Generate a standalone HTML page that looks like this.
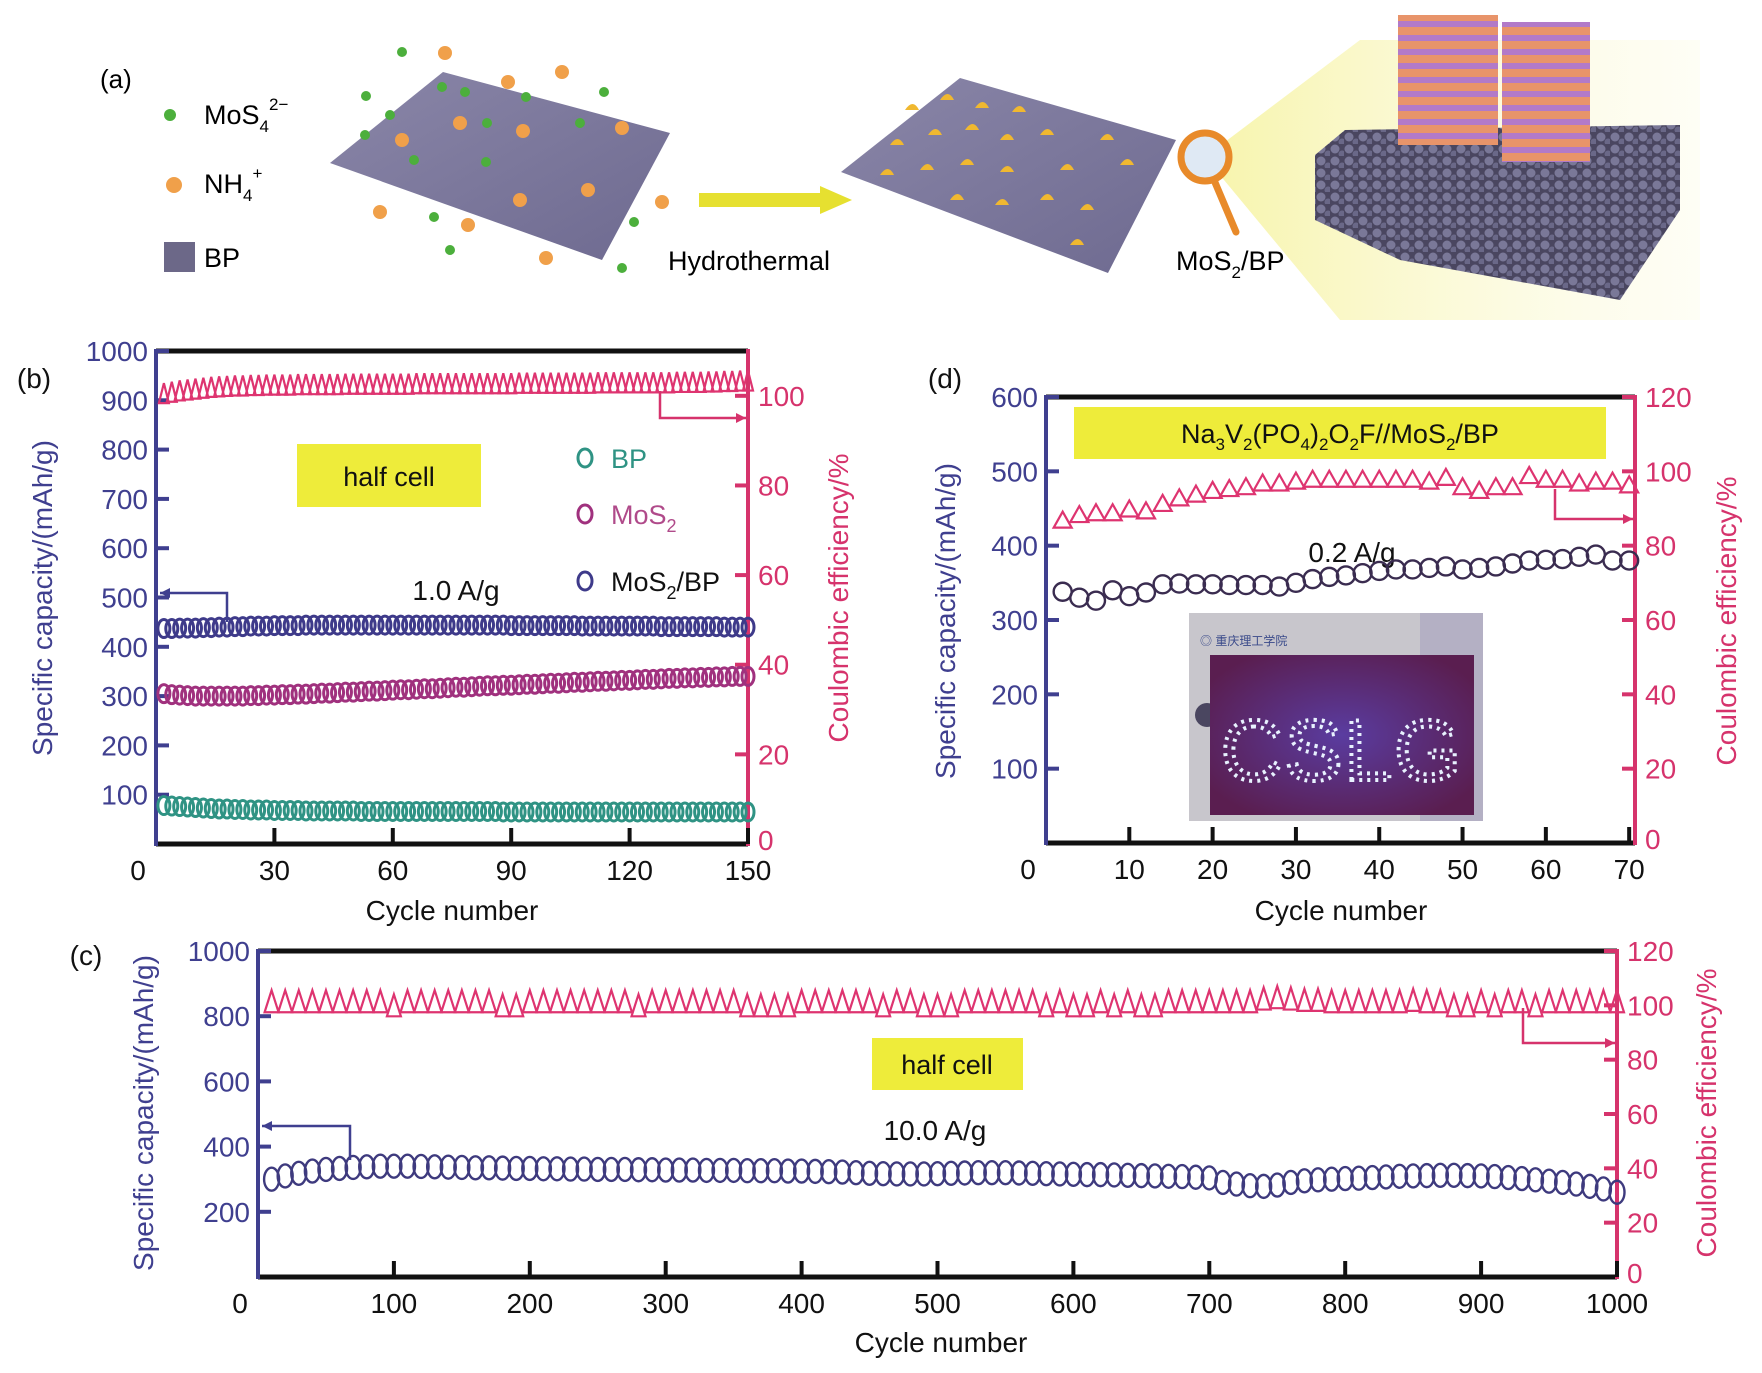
<!DOCTYPE html>
<html><head><meta charset="utf-8"><style>
html,body{margin:0;padding:0;background:#fff;}
svg{display:block;font-family:"Liberation Sans",Arial,sans-serif;}
</style></head><body>
<svg id="fig" width="1762" height="1373" viewBox="0 0 1762 1373" xmlns="http://www.w3.org/2000/svg">
<defs>
<linearGradient id="beam" x1="0" x2="1" y1="0" y2="0"><stop offset="0" stop-color="#f4f08a" stop-opacity="0.9"/><stop offset="1" stop-color="#fbf9d8" stop-opacity="0.3"/></linearGradient>
<linearGradient id="sheet" x1="0" x2="1" y1="0" y2="1"><stop offset="0" stop-color="#8a86a8"/><stop offset="1" stop-color="#6e6a90"/></linearGradient>
<pattern id="stripes" width="10" height="14" patternUnits="userSpaceOnUse"><rect width="10" height="14" fill="#e8946a"/><rect y="7" width="10" height="6" fill="#b27ac8"/></pattern>
<pattern id="bpdots" width="14" height="12" patternUnits="userSpaceOnUse"><rect width="14" height="12" fill="#4a4660"/><circle cx="5" cy="5" r="4.5" fill="#7a7898"/><circle cx="12" cy="10" r="3.5" fill="#6a6888"/></pattern>
<radialGradient id="led" cx="0.5" cy="0.5" r="0.6"><stop offset="0" stop-color="#5a3ca0"/><stop offset="1" stop-color="#5a1e50"/></radialGradient>
</defs>

<!-- Panel (a) illustration -->
<g id="panel-a">
<text x="100" y="88" font-size="26">(a)</text>
<circle cx="170" cy="115" r="6" fill="#4caf3c"/>
<text x="204" y="124" font-size="27">MoS<tspan font-size="17" dy="8">4</tspan><tspan font-size="17" dy="-22">2−</tspan></text>
<circle cx="174" cy="185" r="8" fill="#f0a04a"/>
<text x="204" y="193" font-size="27">NH<tspan font-size="17" dy="8">4</tspan><tspan font-size="17" dy="-22">+</tspan></text>
<rect x="164" y="242" width="31" height="30" fill="#6c6888"/>
<text x="204" y="267" font-size="27">BP</text>
<polygon points="330,163 443,72 670,133 602,260" fill="url(#sheet)"/>
<g>
<circle cx="402" cy="52" r="5" fill="#4caf3c"/><circle cx="445" cy="53" r="7" fill="#f0a04a"/><circle cx="562" cy="72" r="7" fill="#f0a04a"/>
<circle cx="508" cy="82" r="7" fill="#f0a04a"/><circle cx="442" cy="87" r="5" fill="#4caf3c"/><circle cx="366" cy="96" r="5" fill="#4caf3c"/>
<circle cx="465" cy="92" r="5" fill="#4caf3c"/><circle cx="526" cy="97" r="5" fill="#4caf3c"/><circle cx="604" cy="92" r="5" fill="#4caf3c"/>
<circle cx="390" cy="115" r="5" fill="#4caf3c"/><circle cx="460" cy="123" r="7" fill="#f0a04a"/><circle cx="487" cy="123" r="5" fill="#4caf3c"/>
<circle cx="523" cy="131" r="7" fill="#f0a04a"/><circle cx="580" cy="123" r="5" fill="#4caf3c"/><circle cx="622" cy="128" r="7" fill="#f0a04a"/>
<circle cx="365" cy="135" r="5" fill="#4caf3c"/><circle cx="402" cy="140" r="7" fill="#f0a04a"/><circle cx="414" cy="160" r="5" fill="#4caf3c"/>
<circle cx="486" cy="162" r="5" fill="#4caf3c"/><circle cx="588" cy="190" r="7" fill="#f0a04a"/><circle cx="520" cy="200" r="7" fill="#f0a04a"/>
<circle cx="662" cy="202" r="7" fill="#f0a04a"/><circle cx="380" cy="212" r="7" fill="#f0a04a"/><circle cx="434" cy="217" r="5" fill="#4caf3c"/>
<circle cx="468" cy="225" r="7" fill="#f0a04a"/><circle cx="634" cy="222" r="5" fill="#4caf3c"/><circle cx="450" cy="250" r="5" fill="#4caf3c"/>
<circle cx="546" cy="258" r="7" fill="#f0a04a"/><circle cx="622" cy="268" r="5" fill="#4caf3c"/>
</g>
<polygon points="699,193 820,193 820,186 852,200 820,214 820,207 699,207" fill="#e6e030"/>
<text x="668" y="270" font-size="27">Hydrothermal</text>
<polygon points="841,172 960,78 1176,140 1108,273" fill="url(#sheet)"/>
<g fill="#f0b830">
<path d="M905,110 q8,-12 14,0 z"/><path d="M940,100 q8,-12 14,0 z"/><path d="M975,108 q8,-12 14,0 z"/><path d="M1012,112 q8,-12 14,0 z"/>
<path d="M890,145 q8,-12 14,0 z"/><path d="M928,135 q8,-12 14,0 z"/><path d="M965,130 q8,-12 14,0 z"/><path d="M1000,140 q8,-12 14,0 z"/><path d="M1040,135 q8,-12 14,0 z"/><path d="M1100,140 q8,-12 14,0 z"/>
<path d="M880,175 q8,-12 14,0 z"/><path d="M920,170 q8,-12 14,0 z"/><path d="M960,165 q8,-12 14,0 z"/><path d="M1000,172 q8,-12 14,0 z"/><path d="M1060,170 q8,-12 14,0 z"/><path d="M1120,165 q8,-12 14,0 z"/>
<path d="M950,200 q8,-12 14,0 z"/><path d="M995,205 q8,-12 14,0 z"/><path d="M1040,200 q8,-12 14,0 z"/><path d="M1080,210 q8,-12 14,0 z"/><path d="M1070,245 q8,-12 14,0 z"/>
</g>
<polygon points="1205,157 1360,40 1700,40 1700,320 1340,320" fill="url(#beam)" opacity="0.8"/>
<circle cx="1205" cy="157" r="24" fill="#dfe9f4" stroke="#e88a2a" stroke-width="7"/>
<line x1="1214" y1="180" x2="1236" y2="232" stroke="#e88a2a" stroke-width="7" stroke-linecap="round"/>
<text x="1176" y="270" font-size="27">MoS<tspan font-size="17" dy="8">2</tspan><tspan dy="-8">/BP</tspan></text>
<polygon points="1315,155 1345,130 1680,125 1680,210 1620,300 1400,260 1315,220" fill="url(#bpdots)"/>
<rect x="1398" y="15" width="100" height="130" fill="url(#stripes)"/>
<rect x="1502" y="22" width="88" height="140" fill="url(#stripes)"/>
</g>

<g id="charts"></g>
</svg>
<script>
// ---------- Panel (b) data: every 2 cycles, cycles 2..150 ----------
const bCycles = [2,4,6,8,10,12,14,16,18,20,22,24,26,28,30,32,34,36,38,40,42,44,46,48,50,52,54,56,58,60,62,64,66,68,70,72,74,76,78,80,82,84,86,88,90,92,94,96,98,100,102,104,106,108,110,112,114,116,118,120,122,124,126,128,130,132,134,136,138,140,142,144,146,148,150];
const bBP = [78,77,76,75,74,73,72,71,71,70,70,69,69,69,68,68,68,68,67,67,67,67,67,67,67,66,66,66,66,66,66,66,66,66,66,66,66,66,66,66,66,66,66,65,65,65,65,65,65,65,65,65,65,65,65,65,65,65,65,65,65,65,65,65,65,65,65,65,65,65,65,65,65,65,65];
const bMoS2 = [305,303,302,301,300,300,300,300,300,300,300,301,301,302,302,303,303,304,304,305,306,306,307,308,308,309,310,310,311,312,313,313,314,315,315,316,317,318,318,319,320,321,321,322,322,323,324,324,325,326,326,327,328,328,329,330,330,331,332,332,333,334,334,335,336,336,337,337,338,338,339,339,340,340,340];
const bMoS2BP = [437,437,438,438,438,439,439,440,440,441,441,442,442,442,443,443,443,443,444,444,444,444,444,444,444,444,444,444,444,444,444,444,444,444,444,444,444,444,444,444,444,444,444,444,443,443,443,443,443,443,443,443,443,442,442,442,442,442,442,442,442,442,442,441,441,441,441,441,441,441,441,440,440,440,440];
const bCE = [100.6,100.9,101.2,101.4,101.6,101.8,102.0,102.1,102.2,102.3,102.3,102.4,102.4,102.5,102.5,102.5,102.5,102.6,102.6,102.6,102.6,102.6,102.6,102.7,102.7,102.7,102.7,102.7,102.7,102.7,102.7,102.7,102.8,102.8,102.8,102.8,102.8,102.8,102.8,102.8,102.8,102.8,102.8,102.8,102.8,102.9,102.9,102.9,102.9,102.9,102.9,102.9,102.9,102.9,102.9,103.0,103.0,103.0,103.0,103.0,103.0,103.0,103.0,103.0,103.0,103.1,103.1,103.1,103.1,103.2,103.2,103.3,103.3,103.4,103.4];
const bXTicks = [0,30,60,90,120,150];
const bYTicks = [100,200,300,400,500,600,700,800,900,1000];
const bRTicks = [0,20,40,60,80,100];

// ---------- Panel (d) data: every 2 cycles ----------
const dCycles = [2,4,6,8,10,12,14,16,18,20,22,24,26,28,30,32,34,36,38,40,42,44,46,48,50,52,54,56,58,60,62,64,66,68,70];
const dCap = [338,330,326,340,332,337,348,349,348,348,347,347,347,345,350,355,358,360,363,366,368,368,370,372,368,370,372,376,380,381,382,385,388,380,380];
const dCE = [87,88.5,89,89,90,89.5,91.5,93,94,95,95.5,96,97,97,97.5,98,98,98,98,98,98,98,97.5,98.5,96,95,96,96,99,98,98,97,97.5,97.5,96.5];
const dXTicks = [0,10,20,30,40,50,60,70];
const dYTicks = [100,200,300,400,500,600];
const dRTicks = [0,20,40,60,80,100,120];

// ---------- Panel (c) data: every 10 cycles ----------
const cCycles = [10,20,30,40,50,60,70,80,90,100,110,120,130,140,150,160,170,180,190,200,210,220,230,240,250,260,270,280,290,300,310,320,330,340,350,360,370,380,390,400,410,420,430,440,450,460,470,480,490,500,510,520,530,540,550,560,570,580,590,600,610,620,630,640,650,660,670,680,690,700,710,720,730,740,750,760,770,780,790,800,810,820,830,840,850,860,870,880,890,900,910,920,930,940,950,960,970,980,990,1000];
const cCap = [300,310,318,325,330,333,336,338,340,340,340,339,338,337,336,335,335,334,333,333,332,332,331,331,330,330,330,329,329,328,328,328,327,327,327,326,326,326,325,325,324,323,322,320,318,317,316,316,316,317,318,319,320,320,320,319,318,317,316,315,314,314,313,312,311,310,309,308,306,304,290,285,280,278,282,290,295,298,300,302,303,305,307,309,310,311,312,312,311,310,308,305,302,298,294,290,285,278,270,260];
const cCE = [101.5,101.5,101.5,101.5,101.5,101.5,101.5,101.5,101.5,100,101.5,101.5,101.5,101.5,101.5,101.5,101.5,100,100,101.5,101.5,101.5,101.5,101.5,101.5,101.5,101.5,100,101.5,101.5,101.5,101.5,101.5,101.5,101.5,100,100,100,100,101.5,101.5,101.5,101.5,101.5,101.5,100,101.5,101.5,100,100,100,101.5,101.5,101.5,101.5,101.5,101.5,100,101.5,100,100,101.5,100,101.5,100,100,101.5,101.5,101.5,101.5,101.5,101.5,101.5,102.5,103,102.5,102,102,101.5,101.5,101.5,101.5,101.5,101.5,102,101.5,101.5,100,100,101.5,100,101.5,101.5,100,101.5,101.5,101.5,101.5,101.5,101.5];
const cXTicks = [0,100,200,300,400,500,600,700,800,900,1000];
const cYTicks = [200,400,600,800,1000];
const cRTicks = [0,20,40,60,80,100,120];

const NS = 'http://www.w3.org/2000/svg';
const root = document.getElementById('charts');
const NAVY = '#3f3f8f', PINK = '#d6336c';
function mk(tag, attrs, parent) {
  const e = document.createElementNS(NS, tag);
  for (const k in attrs) e.setAttribute(k, attrs[k]);
  (parent || root).appendChild(e);
  return e;
}
function lin(d0, d1, r0, r1) { return v => r0 + (v - d0) * (r1 - r0) / (d1 - d0); }

function chart(p) {
  const g = mk('g', {});
  
  
  const X = lin(p.xd[0], p.xd[1], p.L, p.R);
  const Y = lin(p.yd[0], p.yd[1], p.B, p.T);
  const Y2 = lin(p.y2d[0], p.y2d[1], p.B, p.T);
  const top = mk('line', {x1: p.L, y1: p.T, x2: p.R, y2: p.T, stroke: '#111', 'stroke-width': 5}, g);
  
  
  const bot = mk('line', {x1: p.L, y1: p.B, x2: p.R, y2: p.B, stroke: '#111', 'stroke-width': 5}, g);
  
  
  const la = mk('line', {x1: p.L, y1: p.T - 2, x2: p.L, y2: p.B + 2, stroke: NAVY, 'stroke-width': 4}, g);
  
  
  const ra = mk('line', {x1: p.R, y1: p.T - 2, x2: p.R, y2: p.B + 2, stroke: PINK, 'stroke-width': 4}, g);
  
  
  p.xt.forEach((t, i) => {
    const x = X(t);
    if (i > 0) {
      const tk = mk('line', {x1: x, y1: p.B, x2: x, y2: p.B - 16, stroke: '#111', 'stroke-width': 4}, g);
      
      
    }
    const lx = i === 0 ? x - 18 : x;
    const tl = mk('text', {x: lx, y: p.B + 36, 'font-size': p.fs, 'text-anchor': 'middle', fill: '#111'}, g);
    tl.textContent = t;
    
    
  });
  p.yt.forEach(t => {
    const y = Y(t);
    const tk = mk('line', {x1: p.L, y1: y, x2: p.L + 13, y2: y, stroke: NAVY, 'stroke-width': 4}, g);
    
    
    const tl = mk('text', {x: p.L - 8, y: y + 10, 'font-size': p.fs, 'text-anchor': 'end', fill: NAVY}, g);
    tl.textContent = t;
    
    
  });
  p.rt.forEach(t => {
    const y = Y2(t);
    if (t > 0) {
      const tk = mk('line', {x1: p.R, y1: y, x2: p.R - 13, y2: y, stroke: PINK, 'stroke-width': 4}, g);
      
      
    }
    const tl = mk('text', {x: p.R + 10, y: t === 0 ? y + 6 : y + 10, 'font-size': p.fs, 'text-anchor': 'start', fill: PINK}, g);
    tl.textContent = t;
    
    
  });
  const xt = mk('text', {x: p.xtx, y: p.xty, 'font-size': p.fs, 'text-anchor': 'middle', fill: '#111'}, g);
  xt.textContent = 'Cycle number';
  
  
  const yt = mk('text', {x: 0, y: 0, 'font-size': p.fs, 'text-anchor': 'middle', fill: NAVY, transform: `translate(${p.ytx},${p.tyc}) rotate(-90)`}, g);
  yt.textContent = 'Specific capacity/(mAh/g)';
  
  
  const rt = mk('text', {x: 0, y: 0, 'font-size': p.fs, 'text-anchor': 'middle', fill: PINK, transform: `translate(${p.rtx},${p.tyc}) rotate(-90)`}, g);
  rt.textContent = 'Coulombic efficiency/%';
  
  
  return {g, X, Y, Y2};
}
function ellipses(g, xs, ys, X, Y, rx, ry, color, name, sw) {
  const sg = mk('g', {fill: 'none', stroke: color, 'stroke-width': sw || 2.2}, g);
  
  
  xs.forEach((x, i) => {
    const e = mk('ellipse', {cx: X(x), cy: Y(ys[i]), rx: rx, ry: ry}, sg);
    
    
  });
}
function triangles(g, xs, ys, X, Y, w, h, color, name) {
  const sg = mk('g', {fill: 'none', stroke: color, 'stroke-width': 2.2}, g);
  
  
  xs.forEach((x, i) => {
    const cx = X(x), cy = Y(ys[i]);
    const t = mk('polygon', {points: `${cx - w / 2},${cy + h / 2} ${cx},${cy - h / 2} ${cx + w / 2},${cy + h / 2}`}, sg);
    
    
  });
}
function arrow(g, pts, color, dir, name) {
  const pl = mk('polyline', {points: pts.map(p => p.join(',')).join(' '), fill: 'none', stroke: color, 'stroke-width': 2.5}, g);
  
  
  const [ex, ey] = pts[pts.length - 1];
  const hd = mk('polygon', {points: `${ex},${ey} ${ex - dir * 10},${ey - 5} ${ex - dir * 10},${ey + 5}`, fill: color}, g);
  
  
}
function label(g, x, y, txt, size, name, anchor, color) {
  const t = mk('text', {x: x, y: y, 'font-size': size, 'text-anchor': anchor || 'middle', fill: color || '#111'}, g);
  t.innerHTML = txt;
  
  
  return t;
}
function box(g, x, y, w, h, name) {
  const r = mk('rect', {x: x, y: y, width: w, height: h, fill: '#eeec3a'}, g);
  
  
}

// ---------- Panel b ----------
(function () {
  const c = chart({name: 'chart-b', L: 156, R: 748, T: 351, B: 844, xd: [0, 150], yd: [0, 1000], y2d: [0, 110], xt: bXTicks, yt: bYTicks, rt: bRTicks, fs: 28, xtx: 452, xty: 920, ytx: 52, rtx: 848, tyc: 598});
  const g = c.g;
  label(g, 34, 388, '(b)', 28, 'panel-b-label');
  box(g, 297, 444, 184, 63, 'half-cell-box-b');
  label(g, 389, 486, 'half cell', 27, 'half-cell-label-b');
  label(g, 456, 600, '1.0 A/g', 28, 'rate-label-b');
  ellipses(g, bCycles, bBP, c.X, c.Y, 6, 9, '#2f9384', 'series-bp', 3);
  ellipses(g, bCycles, bMoS2, c.X, c.Y, 6, 9, '#a0317e', 'series-mos2', 3);
  ellipses(g, bCycles, bMoS2BP, c.X, c.Y, 6, 9, '#3e3a8a', 'series-mos2-bp', 3);
  triangles(g, bCycles, bCE, c.X, c.Y2, 10, 20, '#de3470', 'series-ce-b');
  arrow(g, [[227, 622], [227, 593], [160, 593]], NAVY, -1, 'left-axis-arrow-b');
  arrow(g, [[660, 391], [660, 418], [746, 418]], PINK, 1, 'right-axis-arrow-b');
  const leg = [['BP', '#2f9384', 458, '#2f9384'], ['MoS<tspan font-size="18" dy="8">2</tspan>', '#a0317e', 514, '#b04a8a'], ['MoS<tspan font-size="18" dy="8">2</tspan><tspan dy="-8">/BP</tspan>', '#3e3a8a', 581, '#111']];
  leg.forEach(l => {
    const e = mk('ellipse', {cx: 585, cy: l[2], rx: 7, ry: 9, fill: 'none', stroke: l[1], 'stroke-width': 3}, g);
    
    
    label(g, 611, l[2] + 10, l[0], 27, 'legend-entry', 'start', l[3]);
  });
})();

// ---------- Panel d ----------
(function () {
  const c = chart({name: 'chart-d', L: 1046, R: 1635, T: 397, B: 843, xd: [0, 70.7], yd: [0, 600], y2d: [0, 120], xt: dXTicks, yt: dYTicks, rt: dRTicks, fs: 28, xtx: 1341, xty: 920, ytx: 955, rtx: 1736, tyc: 621});
  const g = c.g;
  label(g, 945, 388, '(d)', 28, 'panel-d-label');
  box(g, 1074, 407, 532, 52, 'cell-label-box-d');
  label(g, 1340, 443, 'Na<tspan font-size="17" dy="7">3</tspan><tspan dy="-7">V</tspan><tspan font-size="17" dy="7">2</tspan><tspan dy="-7">(PO</tspan><tspan font-size="17" dy="7">4</tspan><tspan dy="-7">)</tspan><tspan font-size="17" dy="7">2</tspan><tspan dy="-7">O</tspan><tspan font-size="17" dy="7">2</tspan><tspan dy="-7">F//MoS</tspan><tspan font-size="17" dy="7">2</tspan><tspan dy="-7">/BP</tspan>', 27, 'full-cell-label-d');
  label(g, 1352, 562, '0.2 A/g', 28, 'rate-label-d');
  ellipses(g, dCycles, dCap, c.X, c.Y, 9, 9, '#3a2c50', 'series-capacity-d', 2.4);
  triangles(g, dCycles, dCE, c.X, c.Y2, 18, 16, '#de3470', 'series-ce-d');
  arrow(g, [[1555, 489], [1555, 519], [1633, 519]], PINK, 1, 'right-axis-arrow-d');
  const ph = mk('g', {}, g);
  
  
  mk('rect', {x: 1189, y: 613, width: 294, height: 208, fill: '#c8c6cc'}, ph);
  mk('rect', {x: 1420, y: 613, width: 63, height: 208, fill: '#b4b0c4'}, ph);
  mk('circle', {cx: 1207, cy: 715, r: 12, fill: '#4a4660'}, ph);
  mk('rect', {x: 1210, y: 655, width: 264, height: 160, fill: 'url(#led)'}, ph);
  const logo = mk('text', {x: 1200, y: 645, 'font-size': 12, fill: '#3a4a8a', 'font-family': '"Liberation Sans","Noto Sans CJK SC",sans-serif'}, ph);
  logo.textContent = '◎ 重庆理工学院';
  const led = mk('text', {x: 1342, y: 780, 'font-size': 86, 'text-anchor': 'middle', fill: 'none', stroke: '#e8f2ff', 'stroke-width': 4, 'stroke-dasharray': '3 5', 'font-family': '"Liberation Sans",sans-serif', 'letter-spacing': '2'}, ph);
  led.textContent = 'CSLG';
})();

// ---------- Panel c ----------
(function () {
  const c = chart({name: 'chart-c', L: 258, R: 1617, T: 951, B: 1277, xd: [0, 1000], yd: [0, 1000], y2d: [0, 120], xt: cXTicks, yt: cYTicks, rt: cRTicks, fs: 28, xtx: 941, xty: 1352, ytx: 153, rtx: 1716, tyc: 1113});
  const g = c.g;
  label(g, 86, 965, '(c)', 28, 'panel-c-label');
  box(g, 872, 1038, 151, 52, 'half-cell-box-c');
  label(g, 947, 1074, 'half cell', 27, 'half-cell-label-c');
  label(g, 935, 1140, '10.0 A/g', 28, 'rate-label-c');
  ellipses(g, cCycles, cCap, c.X, c.Y, 7.5, 11.5, '#3e3a7e', 'series-capacity-c', 2.4);
  triangles(g, cCycles, cCE, c.X, c.Y2, 14, 22, '#de3470', 'series-ce-c');
  arrow(g, [[350, 1160], [350, 1126], [262, 1126]], NAVY, -1, 'left-axis-arrow-c');
  arrow(g, [[1523, 1008], [1523, 1043], [1615, 1043]], PINK, 1, 'right-axis-arrow-c');
})();
</script>
</body></html>
